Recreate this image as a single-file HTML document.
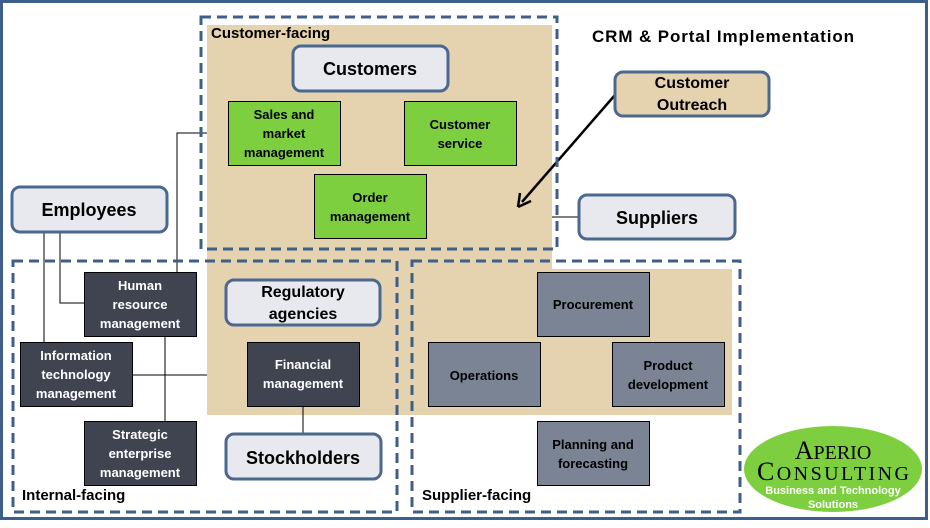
<!DOCTYPE html>
<html><head><meta charset="utf-8"><style>
body{margin:0;background:#fff}
svg text{font-family:"Liberation Sans",sans-serif;font-weight:bold}
</style></head><body>
<svg width="930" height="523" viewBox="0 0 930 523" xmlns="http://www.w3.org/2000/svg">
<rect x="1.5" y="1.5" width="925" height="517" fill="#fff" stroke="#3d5f8a" stroke-width="3"/>
<path d="M207 25H552V269H732V415H207Z" fill="#e5d2ae"/>
<g stroke="#000" stroke-width="1" fill="none">
<path d="M44 232V342"/><path d="M60 232V303H84"/>
<path d="M207 133H177V272"/><path d="M165 336V421"/>
<path d="M132 375H207"/><path d="M303 406V434"/><path d="M552 217H579"/>
</g>
<line x1="615" y1="95" x2="522" y2="202" stroke="#000" stroke-width="2.5"/>
<path d="M518 207L520 193M518 207L531 201" stroke="#000" stroke-width="2.5" fill="none"/>
<g fill="none" stroke="#3d5f8a" stroke-width="3" stroke-dasharray="10 6">
<rect x="201" y="17" width="356" height="232"/>
<rect x="13" y="261" width="384" height="251"/>
<rect x="412" y="261" width="328" height="251"/>
</g>
<text x="211" y="38" font-size="15">Customer-facing</text>
<text x="22" y="500" font-size="15">Internal-facing</text>
<text x="422" y="500" font-size="15">Supplier-facing</text>
<text x="723" y="42" font-size="17" text-anchor="middle" textLength="262">CRM &amp; Portal Implementation</text>
<g stroke="#4a6890" stroke-width="3">
<rect x="293" y="46" width="155" height="45" rx="8" fill="#e8e9ee"/>
<rect x="12" y="187" width="155" height="45" rx="8" fill="#e8e9ee"/>
<rect x="615" y="72" width="154" height="44" rx="8" fill="#e5d2ae"/>
<rect x="579" y="195" width="156" height="44" rx="8" fill="#e8e9ee"/>
<rect x="226" y="280" width="154" height="45" rx="8" fill="#e8e9ee"/>
<rect x="226" y="434" width="155" height="45" rx="8" fill="#e8e9ee"/>
</g>
<g font-size="18" text-anchor="middle" fill="#000">
<text x="370" y="75">Customers</text>
<text x="89" y="216">Employees</text>
<text x="657" y="224">Suppliers</text>
<text x="303" y="464">Stockholders</text>
</g>
<g font-size="16" text-anchor="middle">
<text x="692" y="88">Customer</text><text x="692" y="110">Outreach</text>
<text x="303" y="297">Regulatory</text><text x="303" y="319">agencies</text>
</g>
<g fill="#7dcf3f" stroke="#000" stroke-width="1">
<rect x="228.5" y="101.5" width="112" height="64"/>
<rect x="404.5" y="101.5" width="112" height="64"/>
<rect x="314.5" y="174.5" width="112" height="64"/>
</g>
<g font-size="13" text-anchor="middle" fill="#000">
<text x="284" y="119">Sales and</text><text x="284" y="138">market</text><text x="284" y="157">management</text>
<text x="460" y="129">Customer</text><text x="460" y="148">service</text>
<text x="370" y="202">Order</text><text x="370" y="221">management</text>
</g>
<g fill="#3f4450" stroke="#000" stroke-width="1">
<rect x="84.5" y="272.5" width="112" height="64"/>
<rect x="20.5" y="342.5" width="112" height="64"/>
<rect x="84.5" y="421.5" width="112" height="64"/>
<rect x="247.5" y="342.5" width="112" height="64"/>
</g>
<g font-size="13" text-anchor="middle" fill="#fff">
<text x="140" y="290">Human</text><text x="140" y="309">resource</text><text x="140" y="328">management</text>
<text x="76" y="360">Information</text><text x="76" y="379">technology</text><text x="76" y="398">management</text>
<text x="140" y="439">Strategic</text><text x="140" y="458">enterprise</text><text x="140" y="477">management</text>
<text x="303" y="369">Financial</text><text x="303" y="388">management</text>
</g>
<g fill="#7a8494" stroke="#000" stroke-width="1">
<rect x="537.5" y="272.5" width="112" height="64"/>
<rect x="428.5" y="342.5" width="112" height="64"/>
<rect x="612.5" y="342.5" width="112" height="64"/>
<rect x="537.5" y="421.5" width="112" height="64"/>
</g>
<g font-size="13" text-anchor="middle" fill="#000">
<text x="593" y="309">Procurement</text>
<text x="484" y="380">Operations</text>
<text x="668" y="370">Product</text><text x="668" y="389">development</text>
<text x="593" y="449">Planning and</text><text x="593" y="468">forecasting</text>
</g>
<ellipse cx="833" cy="469" rx="89" ry="43" fill="#7dcf3f"/>
<text x="833" y="459" font-size="26" text-anchor="middle" style="font-family:'Liberation Serif',serif;font-weight:normal">A<tspan font-size="20">PERIO</tspan></text>
<text x="833" y="480" font-size="26" text-anchor="middle" textLength="152" style="font-family:'Liberation Serif',serif;font-weight:normal">C<tspan font-size="20">ONSULTING</tspan></text>
<text x="833" y="494" font-size="11" fill="#fff" text-anchor="middle">Business and Technology</text>
<text x="833" y="508" font-size="11" fill="#fff" text-anchor="middle">Solutions</text>
</svg>
</body></html>
